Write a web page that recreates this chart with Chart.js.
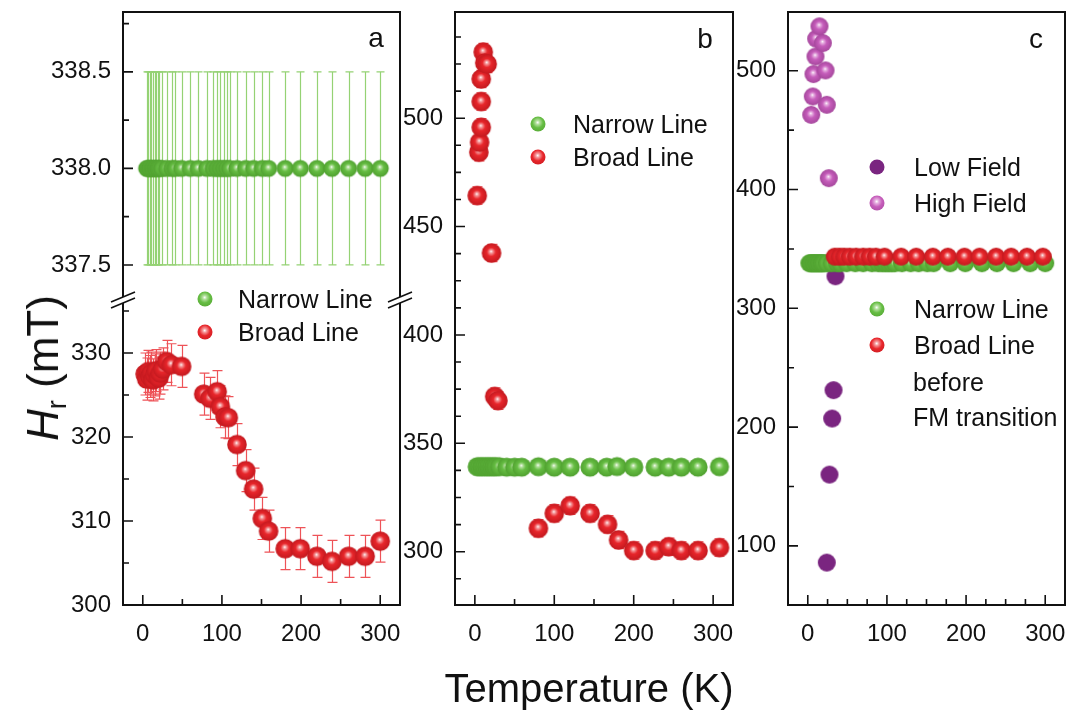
<!DOCTYPE html>
<html>
<head>
<meta charset="utf-8">
<script src="https://cdn.jsdelivr.net/npm/chart.js@4.4.0/dist/chart.umd.min.js"></script>
<style>
body { margin:0; background:#fff; }
#wrap { position:relative; width:1072px; height:712px; overflow:hidden; font-family:'Liberation Sans', Arial, sans-serif; color:#111; }
#wrap canvas { position:absolute; left:0; top:0; }
.lbl { position:absolute; white-space:nowrap; font-size:25px; line-height:1; transform:translateY(-50%); }
.dot { position:absolute; width:15px; height:15px; border-radius:50%; transform:translate(-50%,-50%); }
.letter { position:absolute; font-size:28px; line-height:1; transform:translate(-50%,-50%); }
</style>
</head>
<body>
<div id="wrap">
  <canvas id="panelAup" width="1072" height="712"></canvas>
  <canvas id="panelAlow" width="1072" height="712"></canvas>
  <canvas id="panelB" width="1072" height="712"></canvas>
  <canvas id="panelC" width="1072" height="712"></canvas>

  <div class="letter" style="left:376px;top:38px">a</div>
  <div class="letter" style="left:705px;top:39px">b</div>
  <div class="letter" style="left:1036px;top:39px">c</div>

  <div class="dot green" style="left:205px;top:299px"></div><div class="lbl" style="left:238px;top:299px">Narrow Line</div>
  <div class="dot red" style="left:205px;top:332px"></div><div class="lbl" style="left:238px;top:332px">Broad Line</div>

  <div class="dot green" style="left:538px;top:124px"></div><div class="lbl" style="left:573px;top:124px">Narrow Line</div>
  <div class="dot red" style="left:538px;top:157px"></div><div class="lbl" style="left:573px;top:157px">Broad Line</div>

  <div class="dot purple" style="left:877px;top:167px"></div><div class="lbl" style="left:914px;top:167px">Low Field</div>
  <div class="dot pink" style="left:877px;top:203px"></div><div class="lbl" style="left:914px;top:203px">High Field</div>
  <div class="dot green" style="left:877px;top:309px"></div><div class="lbl" style="left:914px;top:309px">Narrow Line</div>
  <div class="dot red" style="left:877px;top:345px"></div><div class="lbl" style="left:914px;top:345px">Broad Line</div>
  <div class="lbl" style="left:913px;top:382px">before</div>
  <div class="lbl" style="left:913px;top:417px">FM transition</div>

  <div style="position:absolute;left:46px;top:368px;transform:translate(-50%,-50%) rotate(-90deg);font-size:44px;white-space:nowrap;line-height:1"><i>H</i><sub style="font-size:27px;vertical-align:-8px">r</sub> (mT)</div>
  <div style="position:absolute;left:589px;top:688px;transform:translate(-50%,-50%);font-size:40px;white-space:nowrap;line-height:1">Temperature (K)</div>
</div>

<script>
// ---- data (temperature in K, resonance field in mT) ----
// panel a
const aNarrowT = [5, 7, 9, 11, 13, 15, 17, 19, 21, 24, 30, 37, 41, 49, 60, 70, 81, 89, 94, 98, 102, 106, 110, 119, 130, 140, 151, 159, 180, 199, 220, 239, 260, 281, 300];
const aNarrowH = [338.0, 338.0, 338.0, 338.0, 338.0, 338.0, 338.0, 338.0, 338.0, 338.0, 338.0, 338.0, 338.0, 338.0, 338.0, 338.0, 338.0, 338.0, 338.0, 338.0, 338.0, 338.0, 338.0, 338.0, 338.0, 338.0, 338.0, 338.0, 338.0, 338.0, 338.0, 338.0, 338.0, 338.0, 338.0];
const aNarrowErr = [0.5, 0.5, 0.5, 0.5, 0.5, 0.5, 0.5, 0.5, 0.5, 0.5, 0.5, 0.5, 0.5, 0.5, 0.5, 0.5, 0.5, 0.5, 0.5, 0.5, 0.5, 0.5, 0.5, 0.5, 0.5, 0.5, 0.5, 0.5, 0.5, 0.5, 0.5, 0.5, 0.5, 0.5, 0.5];
const aBroadT = [3, 5, 7, 9, 11, 13, 15, 17, 20, 22, 25, 30, 36, 49, 77, 85, 94, 98, 104, 108, 119, 130, 140, 151, 159, 180, 199, 220, 239, 260, 281, 300];
const aBroadH = [327.5, 326.9, 327.8, 327.2, 327.6, 326.8, 327.4, 327.9, 327.0, 327.6, 328.1, 329.0, 328.6, 328.4, 325.1, 324.6, 325.4, 323.6, 322.4, 322.3, 319.1, 316.0, 313.8, 310.3, 308.8, 306.7, 306.7, 305.8, 305.2, 305.8, 305.8, 307.6];
const aBroadErr = [2.5, 2.5, 2.5, 2.5, 2.5, 2.5, 2.5, 2.5, 2.5, 2.5, 2.5, 2.5, 2.5, 2.5, 2.5, 2.5, 2.5, 2.5, 2.5, 2.5, 2.5, 2.5, 2.5, 2.5, 2.5, 2.5, 2.5, 2.5, 2.5, 2.5, 2.5, 2.5];
// panel b
const bNarrowT = [3, 6, 9, 12, 15, 18, 21, 24, 27, 31, 40, 50, 59, 80, 100, 120, 145, 166, 179, 200, 227, 244, 260, 281, 308];
const bNarrowH = [339.2, 339.2, 339.2, 339.2, 339.2, 339.2, 339.2, 339.2, 339.2, 339.2, 339.0, 339.0, 339.0, 339.2, 339.0, 339.0, 339.0, 339.0, 339.3, 339.0, 339.0, 339.0, 339.0, 339.0, 339.2];
const bBroadT = [3, 5, 6, 8, 8, 8, 10.5, 12.5, 15.5, 21, 25, 29, 80, 100, 120, 145, 167, 181, 200, 227, 244, 260, 281, 308];
const bBroadH = [464.3, 484.3, 488.9, 495.8, 507.7, 518.1, 530.5, 525.5, 525.0, 437.8, 371.6, 369.7, 310.8, 317.7, 321.2, 317.7, 312.6, 305.4, 300.5, 300.5, 302.3, 300.5, 300.5, 301.9];
const bBroadErr = [4, 4, 4, 4, 4, 4, 4, 4, 4, 4, 4, 4, 4, 4, 4, 4, 4, 4, 4, 4, 4, 4, 4, 4];
// panel c
const cLowT = [24, 27.4, 30.8, 32.5, 35];
const cLowH = [85.9, 160.0, 207.2, 231.1, 327.0];
const cHighT = [4.3, 6.3, 7.2, 9.7, 10.6, 14.8, 19, 22.4, 24, 26.5];
const cHighH = [462.9, 478.4, 497.2, 512.0, 527.0, 537.4, 523.3, 500.3, 471.4, 409.6];
const cNarrowT = [2, 4, 6, 8, 10, 12, 14, 16, 18, 20, 24, 30, 37, 41, 49, 60, 70, 81, 89, 94, 98, 102, 106, 110, 119, 130, 140, 151, 159, 180, 199, 220, 239, 260, 281, 300];
const cNarrowH = [338, 338, 338, 338, 338, 338, 338, 338, 338, 338, 338, 338, 338, 338, 338, 338, 338, 338, 338, 338, 338, 338, 338, 338, 338, 338, 338, 338, 338, 338, 338, 338, 338, 338, 338, 338];
const cBroadT = [34, 40, 46, 53, 61, 70, 78, 86, 97, 118, 137, 158, 177, 198, 217, 238, 257, 277, 297];
const cBroadH = [343.5, 343.5, 343.5, 343.5, 343.5, 343.5, 343.5, 343.5, 343.5, 343.5, 343.5, 343.5, 343.5, 343.5, 343.5, 343.5, 343.5, 343.5, 343.5];
const cBroadErr = [3, 3, 3, 3, 3, 3, 3, 3, 3, 3, 3, 3, 3, 3, 3, 3, 3, 3, 3];

// ---- tick labels ----
const xTickLabels = [0, 100, 200, 300];
const aUpYTicks = [337.5, 338.0, 338.5];
const aLowYTicks = [300, 310, 320, 330];
const bYTicks = [300, 350, 400, 450, 500];
const cYTicks = [100, 200, 300, 400, 500];

// ---- styling ----
const COLORS = {
    green: { base: '#66bd43', light: '#b5e09f', dark: '#4fa02f', err: '#95d274' },
    red:   { base: '#e8262b', light: '#f59a9c', dark: '#c3191f', err: '#ee5358' },
    pink:  { base: '#c65dbb', light: '#e6b0e0', dark: '#a5479c', err: '#c65dbb' },
    purple:{ base: '#7a2580', light: '#7a2580', dark: '#7a2580', err: '#7a2580' }
};
const FONT = "'Liberation Sans', Arial, sans-serif";
const Y_W = 90, X_H = 50;

function ball(c, r, shine) {
    const cv = document.createElement('canvas');
    const s = Math.ceil(r * 2 + 2);
    cv.width = s; cv.height = s;
    const g = cv.getContext('2d');
    const cx = s / 2, cy = s / 2;
    if (shine) {
        const grd = g.createRadialGradient(cx - r * 0.05, cy - r * 0.18, 0, cx, cy, r);
        grd.addColorStop(0, '#ffffff');
        grd.addColorStop(0.16, c.light);
        grd.addColorStop(0.45, c.base);
        grd.addColorStop(1, c.dark);
        g.fillStyle = grd;
    } else {
        g.fillStyle = c.base;
    }
    g.beginPath();
    g.arc(cx, cy, r, 0, Math.PI * 2);
    g.fill();
    return cv;
}

// legend markers
document.querySelectorAll('.dot').forEach(function (d) {
    const name = d.classList[1];
    const c = COLORS[name];
    if (name === 'purple') d.style.background = c.base;
    else d.style.background = 'radial-gradient(circle at 48% 40%, #fff 0%, ' + c.light + ' 16%, ' + c.base + ' 45%, ' + c.dark + ' 100%)';
});

function pts(xs, ys) {
    return xs.map(function (x, i) { return { x: x, y: ys[i] }; });
}

function tickBuilder(mainTicks, minorStep) {
    return function (scale) {
        const out = [];
        const start = Math.ceil((scale.min - 1e-9) / minorStep);
        const end = Math.floor((scale.max + 1e-9) / minorStep);
        for (let k = start; k <= end; k++) {
            const v = +(k * minorStep).toFixed(6);
            out.push({ value: v, isMain: mainTicks.some(function (m) { return Math.abs(m - v) < 1e-6; }) });
        }
        scale.ticks = out;
    };
}

function noPad(s) {
    s.paddingTop = 0; s.paddingBottom = 0; s.paddingLeft = 0; s.paddingRight = 0;
}

const errPlugin = {
    id: 'errbars',
    beforeDatasetsDraw(chart) {
        const ctx = chart.ctx, a = chart.chartArea;
        const xs = chart.scales.x, ys = chart.scales.y;
        ctx.save();
        ctx.beginPath();
        ctx.rect(a.left, a.top, a.right - a.left, a.bottom - a.top);
        ctx.clip();
        chart.data.datasets.forEach(function (ds) {
            if (!ds.errors) return;
            ctx.strokeStyle = ds.errColor;
            ctx.lineWidth = 1.2;
            const cap = ds.capW;
            ds.data.forEach(function (p, i) {
                const e = ds.errors[i];
                const px = Math.round(xs.getPixelForValue(p.x)) + 0.5;
                const y1 = ys.getPixelForValue(p.y - e), y2 = ys.getPixelForValue(p.y + e);
                ctx.beginPath();
                ctx.moveTo(px, y1); ctx.lineTo(px, y2);
                ctx.moveTo(px - cap, y1); ctx.lineTo(px + cap, y1);
                ctx.moveTo(px - cap, y2); ctx.lineTo(px + cap, y2);
                ctx.stroke();
            });
        });
        ctx.restore();
    }
};

const framePlugin = {
    id: 'frame',
    afterDraw(chart, args, opts) {
        const ctx = chart.ctx, a = chart.chartArea;
        ctx.save();
        ctx.strokeStyle = '#111';
        ctx.lineWidth = 2;
        ctx.beginPath();
        if (opts.sides.indexOf('t') >= 0) { ctx.moveTo(a.left - 1, a.top); ctx.lineTo(a.right + 1, a.top); }
        if (opts.sides.indexOf('b') >= 0) { ctx.moveTo(a.left - 1, a.bottom); ctx.lineTo(a.right + 1, a.bottom); }
        ctx.moveTo(a.left, a.top); ctx.lineTo(a.left, a.bottom);
        ctx.moveTo(a.right, a.top); ctx.lineTo(a.right, a.bottom);
        ctx.stroke();
        // inward ticks
        ctx.lineWidth = 1.6;
        ctx.beginPath();
        chart.scales.y.ticks.forEach(function (t) {
            const py = chart.scales.y.getPixelForValue(t.value);
            const len = t.isMain ? 10 : 6;
            ctx.moveTo(a.left, py); ctx.lineTo(a.left + len, py);
        });
        if (opts.xTicks) {
            chart.scales.x.ticks.forEach(function (t) {
                const px = chart.scales.x.getPixelForValue(t.value);
                const len = t.isMain ? 10 : 6;
                ctx.moveTo(px, a.bottom); ctx.lineTo(px, a.bottom - len);
            });
        }
        ctx.stroke();
        // axis break marks
        if (opts.breakAt) {
            ctx.lineWidth = 1.6;
            ctx.beginPath();
            [a.left, a.right].forEach(function (bx) {
                [opts.breakAt - 3, opts.breakAt + 3].forEach(function (by) {
                    ctx.moveTo(bx - 12, by + 5); ctx.lineTo(bx + 12, by - 5);
                });
            });
            ctx.stroke();
        }
        ctx.restore();
    }
};

function makePanel(id, area, yr, yMain, yMinor, yFmt, showX, xMinor, frameOpts, datasets) {
    const padBottom = showX ? 712 - area.b - X_H : 712 - area.b;
    return new Chart(document.getElementById(id).getContext('2d'), {
        type: 'scatter',
        data: { datasets: datasets },
        options: {
            responsive: false,
            animation: false,
            events: [],
            layout: { padding: { left: area.l - Y_W, top: area.t, right: 1072 - area.r, bottom: padBottom } },
            plugins: { legend: { display: false }, tooltip: { enabled: false }, frame: frameOpts },
            scales: {
                x: {
                    type: 'linear', min: -25, max: 325, display: showX,
                    grid: { display: false, drawTicks: false },
                    border: { display: false },
                    afterBuildTicks: tickBuilder(xTickLabels, xMinor),
                    afterFit: function (s) { s.height = showX ? X_H : 0; noPad(s); },
                    ticks: {
                        autoSkip: false, maxRotation: 0, padding: 15, color: '#111',
                        font: { family: FONT, size: 24 },
                        callback: function (v, i, t) { return t[i].isMain ? String(v) : ''; }
                    }
                },
                y: {
                    type: 'linear', min: yr[0], max: yr[1],
                    grid: { display: false, drawTicks: false },
                    border: { display: false },
                    afterBuildTicks: tickBuilder(yMain, yMinor),
                    afterFit: function (s) { s.width = Y_W; noPad(s); },
                    ticks: {
                        autoSkip: false, padding: 12, color: '#111',
                        font: { family: FONT, size: 24 },
                        callback: function (v, i, t) { return t[i].isMain ? yFmt(v) : ''; }
                    }
                }
            }
        },
        plugins: [errPlugin, framePlugin]
    });
}

function series(xs, ys, col, r, shine, errs, cap) {
    return {
        data: pts(xs, ys),
        pointStyle: ball(COLORS[col], r, shine),
        showLine: false,
        errors: errs || null,
        errColor: COLORS[col].err,
        capW: cap || 4
    };
}

const fmt1 = function (v) { return v.toFixed(1); };
const fmt0 = function (v) { return String(v); };

// panel a, upper segment
makePanel('panelAup', { l: 123, t: 12, r: 400, b: 297 }, [337.334, 338.81], aUpYTicks, 0.25, fmt1,
    false, 50, { sides: 't', xTicks: false },
    [series(aNarrowT, aNarrowH, 'green', 8.6, true, aNarrowErr, 4)]);

// panel a, lower segment
makePanel('panelAlow', { l: 123, t: 303, r: 400, b: 605 }, [300, 335.95], aLowYTicks, 5, fmt0,
    true, 50, { sides: 'b', xTicks: true, breakAt: 300 },
    [series(aBroadT, aBroadH, 'red', 9.8, true, aBroadErr, 5)]);

// panel b
makePanel('panelB', { l: 455, t: 12, r: 733, b: 605 }, [275.4, 549], bYTicks, 12.5, fmt0,
    true, 50, { sides: 'tb', xTicks: true },
    [series(bBroadT, bBroadH, 'red', 9.8, true, bBroadErr, 5),
     series(bNarrowT, bNarrowH, 'green', 9.6, true)]);

// panel c
makePanel('panelC', { l: 788, t: 12, r: 1065, b: 605 }, [50.2, 549.5], cYTicks, 50, fmt0,
    true, 25, { sides: 'tb', xTicks: true },
    [series(cBroadT, cBroadH, 'red', 9, true, cBroadErr, 4),
     series(cNarrowT, cNarrowH, 'green', 9, true),
     series(cLowT, cLowH, 'purple', 9, false),
     series(cHighT, cHighH, 'pink', 9, true)]);
</script>
</body>
</html>
